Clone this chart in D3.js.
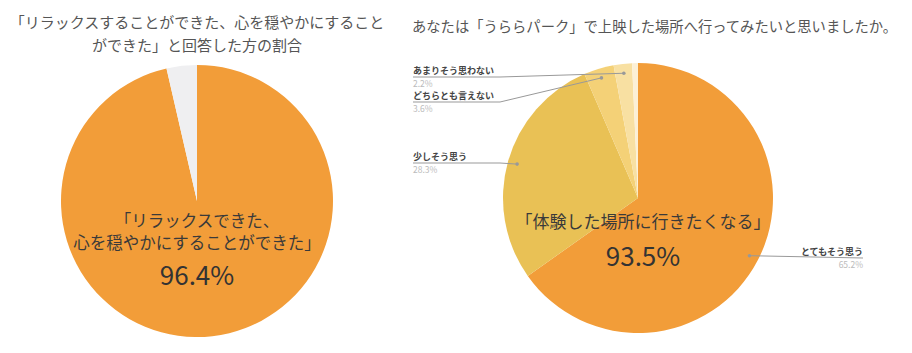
<!DOCTYPE html>
<html>
<head>
<meta charset="utf-8">
<script src="https://cdn.jsdelivr.net/npm/d3@7"></script>
<style>
body { margin: 0; background: #fff; }
text { font-family: "Noto Sans CJK JP", "Noto Sans", sans-serif; }
</style>
</head>
<body>
<div id="chart-area"></div>
<script>
// left pie
var leftTitle = ["「リラックスすることができた、心を穏やかにすること", "ができた」と回答した方の割合"];
var leftValues = [96.4, 3.6];
var leftColors = ["#f29d39", "#efeff1"];
var leftInner = ["「リラックスできた、", "心を穏やかにすることができた」"];
var leftPct = "96.4%";

// right pie
var rightTitle = "あなたは「うららパーク」で上映した場所へ行ってみたいと思いましたか。";
var rightCats = ["とてもそう思う", "少しそう思う", "どちらとも言えない", "あまりそう思わない", "無回答"];
var rightValues = [65.2, 28.3, 3.6, 2.2, 0.7];
var rightColors = ["#f29d39", "#e9c155", "#f4d177", "#f8e0a2", "#fcf0d6"];
var rightInner = "「体験した場所に行きたくなる」";
var rightPct = "93.5%";

var width = 912, height = 353;

var svg = d3.select("#chart-area")
	.append("svg")
	.attr("width", width)
	.attr("height", height);

var pie = d3.pie().sort(null).value(function(d){ return d; });

// ---- left chart
var gl = svg.append("g").attr("transform", "translate(197,201)");
var rL = 136;
var arcL = d3.arc().innerRadius(0).outerRadius(rL);

gl.selectAll("path")
	.data(pie(leftValues))
	.enter().append("path")
	.attr("d", arcL)
	.attr("fill", function(d, i){ return leftColors[i]; });

svg.selectAll(".ltitle")
	.data(leftTitle)
	.enter().append("text")
	.attr("class", "ltitle")
	.attr("x", 197)
	.attr("y", function(d, i){ return 28 + i * 23; })
	.attr("text-anchor", "middle")
	.attr("font-size", 15)
	.attr("fill", "#555")
	.text(function(d){ return d; });

gl.selectAll(".linner")
	.data(leftInner)
	.enter().append("text")
	.attr("class", "linner")
	.attr("x", 0)
	.attr("y", function(d, i){ return 26 + i * 22; })
	.attr("text-anchor", "middle")
	.attr("font-size", 16.5)
	.attr("fill", "#3a3a3a")
	.text(function(d){ return d; });

gl.append("text")
	.attr("x", 0)
	.attr("y", 84)
	.attr("text-anchor", "middle")
	.attr("font-size", 26)
	.attr("fill", "#333")
	.text(leftPct);

// ---- right chart
var cx = 638, cy = 198, rR = 135;
var gr = svg.append("g").attr("transform", "translate(" + cx + "," + cy + ")");
var arcR = d3.arc().innerRadius(0).outerRadius(rR);
var rightArcs = pie(rightValues);

gr.selectAll("path")
	.data(rightArcs)
	.enter().append("path")
	.attr("d", arcR)
	.attr("fill", function(d, i){ return rightColors[i]; });

svg.append("text")
	.attr("x", 412)
	.attr("y", 32)
	.attr("font-size", 14.3)
	.attr("fill", "#555")
	.text(rightTitle);

gr.append("text")
	.attr("x", 5)
	.attr("y", 30)
	.attr("text-anchor", "middle")
	.attr("font-size", 17)
	.attr("fill", "#3a3a3a")
	.text(rightInner);

gr.append("text")
	.attr("x", 5)
	.attr("y", 68)
	.attr("text-anchor", "middle")
	.attr("font-size", 26)
	.attr("fill", "#333")
	.text(rightPct);

// callout labels: y of the underline, side, end of the underline
var callouts = [
	{ i: 0, y: 258, side: "right", x0: 863 },
	{ i: 1, y: 163, side: "left", x0: 413 },
	{ i: 2, y: 102, side: "left", x0: 413 },
	{ i: 3, y: 77, side: "left", x0: 413 }
];
var dotArc = d3.arc().innerRadius(rR * 0.93).outerRadius(rR * 0.93);

callouts.forEach(function(c){
	var p = dotArc.centroid(rightArcs[c.i]);
	var px = cx + p[0], py = cy + p[1];
	var pts;
	if (c.side === "left") {
		var bend = Math.min(500, px);
		pts = [[c.x0, c.y], [bend, c.y], [px, py]];
	} else {
		pts = [[c.x0, c.y], [px, py]];
	}
	svg.append("path")
		.attr("d", d3.line()(pts))
		.attr("fill", "none")
		.attr("stroke", "#999")
		.attr("stroke-width", 1);
	svg.append("circle")
		.attr("cx", px)
		.attr("cy", py)
		.attr("r", 1.8)
		.attr("fill", "#999");
	var anchor = c.side === "left" ? "start" : "end";
	svg.append("text")
		.attr("x", c.x0)
		.attr("y", c.y - 3)
		.attr("text-anchor", anchor)
		.attr("font-size", 9)
		.attr("font-weight", "bold")
		.attr("fill", "#444")
		.text(rightCats[c.i]);
	svg.append("text")
		.attr("x", c.x0)
		.attr("y", c.y + 10)
		.attr("text-anchor", anchor)
		.attr("font-size", 8.5)
		.attr("fill", "#bbb")
		.text(rightValues[c.i].toFixed(1) + "%");
});
</script>
</body>
</html>
